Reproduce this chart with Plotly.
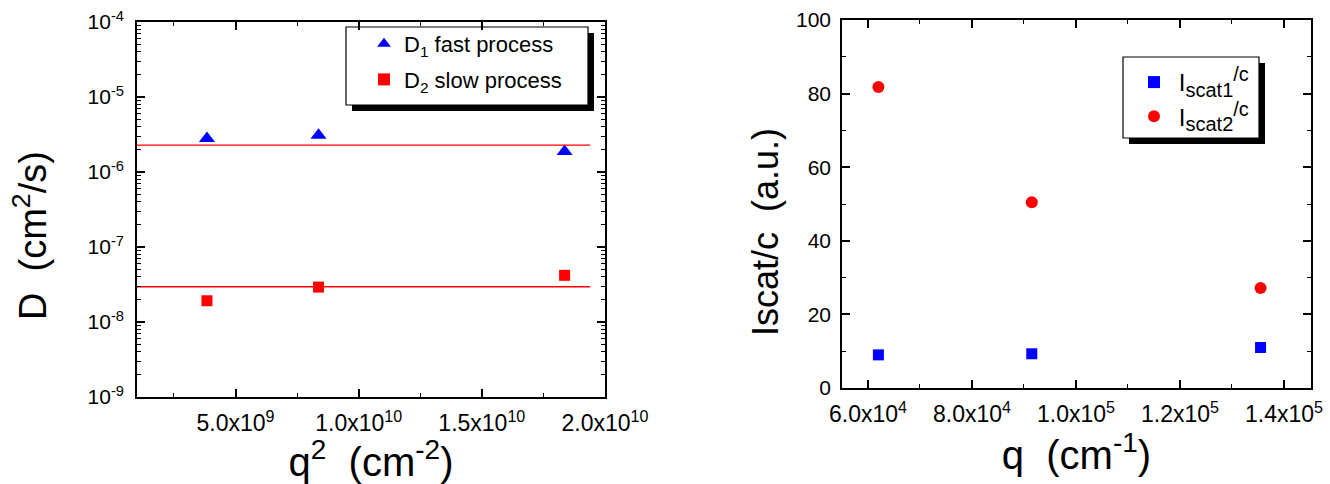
import plotly.graph_objects as go
from plotly.subplots import make_subplots

# ---- data -------------------------------------------------------------
# left panel: diffusion coefficients vs q^2
q2 = [3.84e9, 8.37e9, 1.836e10]          # cm^-2
D1_fast = [2.8e-6, 3.1e-6, 1.87e-6]      # cm^2/s
D2_slow = [1.92e-8, 2.92e-8, 4.19e-8]    # cm^2/s
D1_mean = 2.28e-6
D2_mean = 2.95e-8
fit_span = [1.0e9, 1.94e10]              # q^2 extent of the mean lines

# right panel: scattered intensity per concentration vs q
q = [6.2e4, 9.15e4, 1.355e5]             # cm^-1
I_scat1 = [9.0, 9.3, 11.0]
I_scat2 = [81.8, 50.5, 27.2]

# tick labels
logy_vals = [1e-9, 1e-8, 1e-7, 1e-6, 1e-5, 1e-4]
logy_text = ["10<sup>%d</sup>" % e for e in range(-9, -3)]
q2_ticks = [5e9, 1e10, 1.5e10, 2e10]
q2_text = ["5.0x10<sup>9</sup>", "1.0x10<sup>10</sup>",
           "1.5x10<sup>10</sup>", "2.0x10<sup>10</sup>"]
q_ticks = [6e4, 8e4, 1e5, 1.2e5, 1.4e5]
q_text = ["6.0x10<sup>4</sup>", "8.0x10<sup>4</sup>", "1.0x10<sup>5</sup>",
          "1.2x10<sup>5</sup>", "1.4x10<sup>5</sup>"]

W, H = 1330, 484
FONT = "Arial, Liberation Sans, sans-serif"
BLUE, RED = "#0000FF", "#FF0000"
XTICK_FONT = dict(family=FONT, size=23, color="black")
YTICK_FONT = dict(family=FONT, size=21, color="black")
TITLE_FONT = dict(family=FONT, size=40, color="black")


def scat_label(idx):
    big = "font-size:20px"
    return ("\u2009I<sub><span style='%s'>scat%d</span></sub>"
            "<sup><span style='%s'>/c</span></sup>" % (big, idx, big))


fig = make_subplots(rows=1, cols=2)

fig.add_trace(go.Scatter(x=q2, y=D1_fast, mode="markers", name="D<sub>1</sub> fast process",
                         marker=dict(symbol="triangle-up", size=14, color=BLUE),
                         legend="legend", legendgroup="a"), row=1, col=1)
fig.add_trace(go.Scatter(x=q2, y=D2_slow, mode="markers", name="D<sub>2</sub> slow process",
                         marker=dict(symbol="square", size=11, color=RED),
                         legend="legend", legendgroup="b"), row=1, col=1)
fig.add_trace(go.Scatter(x=fit_span, y=[D1_mean, D1_mean], mode="lines",
                         line=dict(color=RED, width=1.3), showlegend=False), row=1, col=1)
fig.add_trace(go.Scatter(x=fit_span, y=[D2_mean, D2_mean], mode="lines",
                         line=dict(color=RED, width=1.3), showlegend=False), row=1, col=1)

fig.add_trace(go.Scatter(x=q, y=I_scat1, mode="markers", name=scat_label(1),
                         marker=dict(symbol="square", size=11, color=BLUE),
                         legend="legend2", legendgroup="c"), row=1, col=2)
fig.add_trace(go.Scatter(x=q, y=I_scat2, mode="markers", name=scat_label(2),
                         marker=dict(symbol="circle", size=12, color=RED),
                         legend="legend2", legendgroup="d"), row=1, col=2)


def axis_style(**kw):
    style = dict(showline=True, linecolor="black", linewidth=1.6, mirror="allticks",
                 ticks="inside", ticklen=8, tickwidth=1.5, tickcolor="black",
                 showgrid=False, zeroline=False, automargin=False)
    style.update(kw)
    return style


def minor_style(**kw):
    style = dict(ticks="inside", ticklen=4, tickwidth=1.2, tickcolor="black", showgrid=False)
    style.update(kw)
    return style


def px_x(a, b):
    return [a / W, b / W]


def px_y(top, bottom):
    return [1 - bottom / H, 1 - top / H]


fig.update_xaxes(axis_style(
    domain=px_x(137, 605), range=[1e9, 2e10], tickfont=XTICK_FONT,
    tickmode="array", tickvals=q2_ticks, ticktext=q2_text, ticklabelstandoff=5,
    minor=minor_style(tickmode="array", tickvals=[2.5e9, 7.5e9, 1.25e10, 1.75e10]),
    title=dict(text="q<sup>2</sup>\u00a0\u00a0(cm<sup>-2</sup>)", standoff=8, font=TITLE_FONT),
), row=1, col=1)
fig.update_yaxes(axis_style(
    domain=px_y(22, 397), type="log", range=[-9, -4], tickfont=YTICK_FONT,
    tickmode="array", tickvals=logy_vals, ticktext=logy_text, ticklabelstandoff=7,
    minor=minor_style(tickmode="array",
                      tickvals=[k * 10.0 ** e for e in range(-9, -4) for k in range(2, 10)]),
), row=1, col=1)

fig.update_xaxes(axis_style(
    domain=px_x(842, 1311), range=[5.5e4, 1.452e5], tickfont=XTICK_FONT,
    tickmode="array", tickvals=q_ticks, ticktext=q_text, ticklabelstandoff=5,
    minor=minor_style(tickmode="array", tickvals=[7e4, 9e4, 1.1e5, 1.3e5]),
    title=dict(text="q\u00a0\u00a0(cm<sup>-1</sup>)", standoff=12, font=TITLE_FONT),
), row=1, col=2)
fig.update_yaxes(axis_style(
    domain=px_y(20, 388), range=[0, 100], tickfont=YTICK_FONT,
    tickmode="linear", tick0=0, dtick=20, ticklabelstandoff=5,
    minor=minor_style(dtick=10),
), row=1, col=2)

# vertical axis titles (placed as rotated annotations)
fig.add_annotation(text="D\u00a0\u00a0(cm<sup>2</sup>/s)", textangle=-90, showarrow=False,
                   xref="paper", yref="paper", x=30 / W, y=1 - 236 / H,
                   xanchor="center", yanchor="middle",
                   font=dict(family=FONT, size=38, color="black"))
fig.add_annotation(text="Iscat/c\u00a0\u00a0(a.u.)", textangle=-90, showarrow=False,
                   xref="paper", yref="paper", x=766 / W, y=1 - 232 / H,
                   xanchor="center", yanchor="middle",
                   font=dict(family=FONT, size=36, color="black"))


# legend frames with a drop shadow
def legend_frame(x0, y0, x1, y1, off=6):
    fig.add_shape(type="rect", xref="paper", yref="paper", layer="below",
                  x0=(x0 + off) / W, x1=(x1 + off) / W, y0=1 - (y1 + off) / H, y1=1 - (y0 + off) / H,
                  fillcolor="black", line=dict(width=0))
    fig.add_shape(type="rect", xref="paper", yref="paper", layer="below",
                  x0=x0 / W, x1=x1 / W, y0=1 - y1 / H, y1=1 - y0 / H,
                  fillcolor="white", line=dict(color="black", width=1.2))


legend_frame(346, 27, 588, 105)
legend_frame(1123, 57, 1259, 138)

leg_common = dict(bgcolor="rgba(0,0,0,0)", borderwidth=0, xanchor="left", yanchor="top",
                  traceorder="grouped", itemsizing="constant")
fig.update_layout(
    width=W, height=H, margin=dict(l=0, r=0, t=0, b=0),
    paper_bgcolor="white", plot_bgcolor="white",
    font=dict(family=FONT, color="black"),
    legend=dict(leg_common, x=364 / W, y=1 - 23 / H, tracegroupgap=4,
                font=dict(family=FONT, size=22, color="black")),
    legend2=dict(leg_common, x=1134 / W, y=1 - 60 / H, tracegroupgap=0,
                 font=dict(family=FONT, size=24, color="black")),
)

fig.write_html("out.html")
